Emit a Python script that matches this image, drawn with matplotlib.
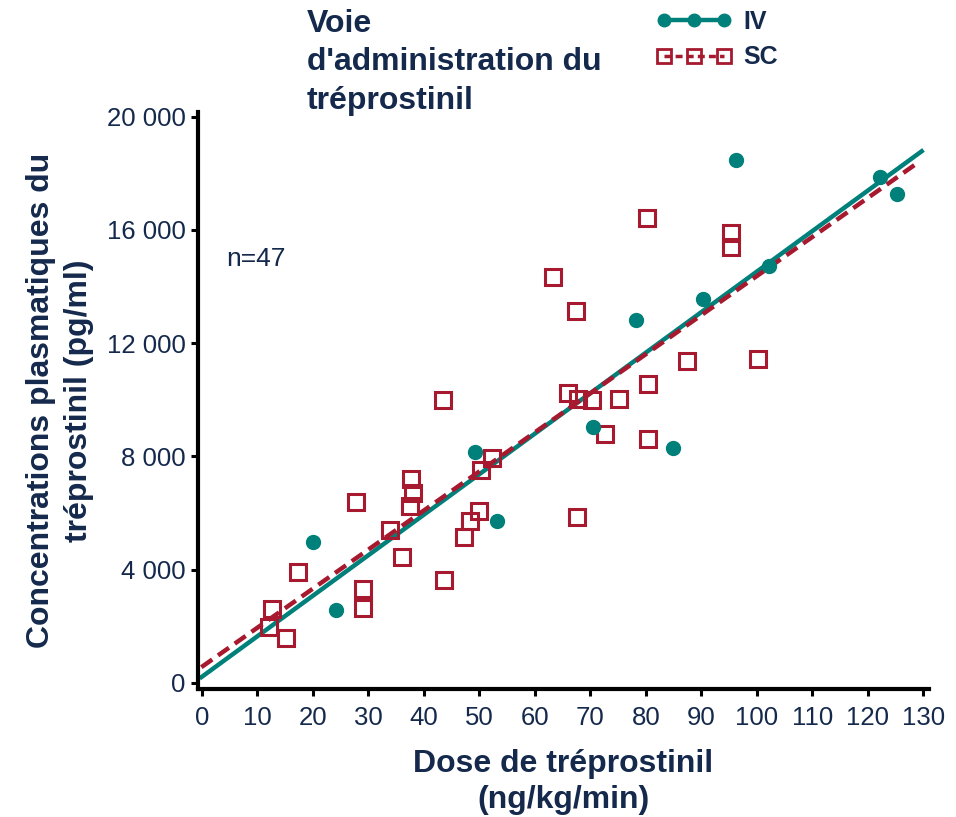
import numpy as np
import matplotlib
matplotlib.use('Agg')
import matplotlib.pyplot as plt
from matplotlib.lines import Line2D
from matplotlib.ticker import FuncFormatter, MultipleLocator

matplotlib.rcParams['font.family'] = ['Liberation Sans', 'DejaVu Sans']
#---------------------------------------------------------------------------------------#
# dose (ng/kg/min) vs plasma concentration (pg/ml)
iv_dose = [20.1, 24.1, 49.2, 53.1, 70.4, 78.2, 84.8, 90.2, 96.2, 102.1, 122.2, 125.2]
iv_conc = [4970, 2580, 8140, 5720, 9040, 12800, 8290, 13570, 18450, 14740, 17860, 17270]

sc_dose = [12.6, 12.1, 15.1, 17.4, 27.7, 29.1, 29.1, 33.9, 36.0, 37.7, 38.1, 37.5,
           43.4, 43.6, 47.2, 48.3, 50.0, 50.3, 52.2, 63.2, 67.4, 66.0, 67.8, 70.2,
           72.6, 75.2, 80.3, 80.4, 80.2, 87.4, 95.3, 95.3, 100.2, 67.6]
sc_conc = [2615, 1970, 1580, 3910, 6400, 3320, 2640, 5410, 4460, 7200, 6725, 6265,
           10000, 3640, 5150, 5710, 6080, 7530, 7960, 14350, 13150, 10240, 10040, 9980,
           8800, 10040, 8610, 10560, 16430, 11380, 15890, 15400, 11450, 5870]

# linear fits: slope, intercept and dose range of the drawn line
iv_fit = (143.1, 218.0)
sc_fit = (138.0, 571.0)
iv_range = [-0.4, 130.0]
sc_range = [-0.1, 129.1]

n_label = "n=47"
#---------------------------------------------------------------------------------------#
teal = '#00807A'
red = '#A6192E'
navy = '#14294B'

fig = plt.figure(figsize=(9.56, 8.17), dpi=100)
ax = fig.add_axes([0.2071, 0.1567, 0.7647, 0.7062])

xr = np.array(iv_range)
ax.plot(xr, iv_fit[0]*xr + iv_fit[1], color=teal, lw=3.2, solid_capstyle='butt', zorder=2)
xr = np.array(sc_range)
ax.plot(xr, sc_fit[0]*xr + sc_fit[1], color=red, lw=3.2, ls=(0, (3.0, 1.6)), zorder=2)

ax.plot(sc_dose, sc_conc, 's', ms=11, mfc='none', mec=red, mew=2.2, zorder=3)
ax.plot(iv_dose, iv_conc, 'o', ms=10, color=teal, mec=teal, zorder=4)

ax.text(4.3, 14720, n_label, fontsize=19, color=navy, ha='left', va='baseline')
#---------------------------------------------------------------------------------------#
ax.set_xlim(-0.7, 131.0)
ax.set_ylim(-212, 20160)
ax.xaxis.set_major_locator(MultipleLocator(10))
ax.yaxis.set_major_locator(MultipleLocator(4000))
ax.yaxis.set_major_formatter(FuncFormatter(lambda v, p: f"{int(v):,}".replace(",", " ")))

for s in ['top', 'right']:
    ax.spines[s].set_visible(False)
for s in ['left', 'bottom']:
    ax.spines[s].set_linewidth(3)
ax.tick_params(axis='both', direction='out', length=5, width=2.2, colors='black',
               labelcolor=navy, labelsize=18.5)
ax.tick_params(axis='x', pad=7)
ax.tick_params(axis='y', pad=4)

ax.set_xlabel("Dose de tréprostinil\n(ng/kg/min)", fontsize=23, fontweight='bold',
              color=navy, labelpad=14, linespacing=1.25)
ax.set_ylabel("Concentrations plasmatiques du\ntréprostinil (pg/ml)", fontsize=23,
              fontweight='bold', color=navy, labelpad=9, linespacing=1.35)

fig.text(307/956, 1 - 9/817, "Voie\nd'administration du\ntréprostinil", fontsize=23,
         fontweight='bold', color=navy, ha='left', va='top', linespacing=1.36)

handles = [Line2D([], [], color=teal, lw=3.2, marker='o', ms=9),
           Line2D([], [], color=red, lw=2.5, ls=(0, (2.0, 1.2)), marker='s', ms=10,
                  mfc='none', mec=red, mew=2.0)]
fig.legend(handles, ['IV', 'SC'], loc='upper left', bbox_to_anchor=(656/956, 1 - 10/817),
           frameon=False, numpoints=3, handlelength=3.0, handletextpad=0.5,
           labelspacing=0.45, borderpad=0, borderaxespad=0,
           prop={'size': 18, 'weight': 'bold'}, labelcolor=navy)

fig.savefig('out.png', dpi=100)
